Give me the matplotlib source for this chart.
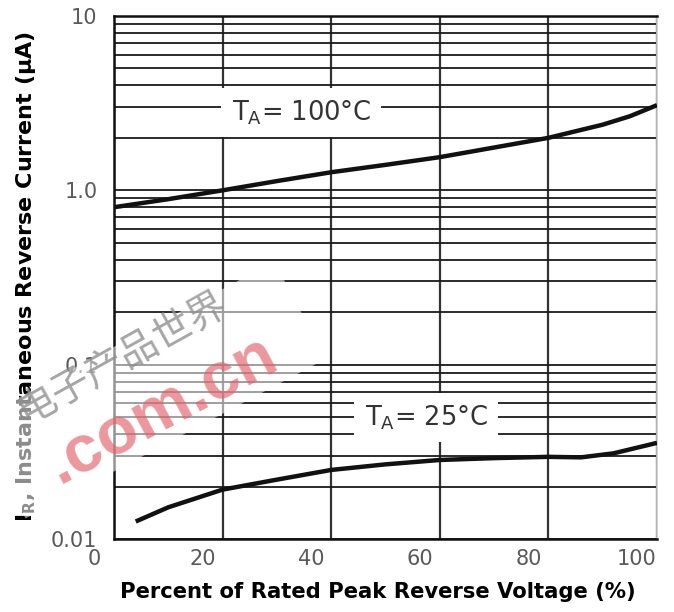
import numpy as np
import matplotlib
matplotlib.use("Agg")
import matplotlib.pyplot as plt
import matplotlib.transforms as mtransforms
from matplotlib.ticker import LogLocator, NullFormatter, FixedLocator
from matplotlib.patches import Rectangle

# percent of rated peak reverse voltage
pct_100 = [0, 10, 20, 30, 40, 50, 60, 70, 80, 90, 95, 100]
ir_100 = [0.80, 0.89, 1.0, 1.13, 1.27, 1.40, 1.55, 1.76, 2.0, 2.38, 2.66, 3.08]

pct_25 = [4, 10, 20, 30, 40, 50, 60, 70, 80, 86, 92, 100]
ir_25 = [0.0126, 0.0152, 0.0192, 0.0219, 0.0249, 0.0268, 0.0284, 0.0291, 0.0296, 0.0294, 0.0310, 0.0356]

x_ticks = [0, 20, 40, 60, 80, 100]
y_ticks = [0.01, 0.1, 1.0, 10]
y_ticklabels = ["0.01", "0.1", "1.0", "10"]

fig = plt.figure(figsize=(6.74, 6.12), dpi=100)
ax = fig.add_axes([114/674, 73/612, 543/674, 523/612])

ax.set_yscale("log")
ax.set_xlim(0, 100)
ax.set_ylim(0.01, 10)

ax.xaxis.set_major_locator(FixedLocator(x_ticks))
ax.set_xticklabels([str(v) for v in x_ticks])
ax.yaxis.set_major_locator(FixedLocator(y_ticks))
ax.set_yticklabels(y_ticklabels)
ax.yaxis.set_minor_locator(LogLocator(base=10, subs=np.arange(2, 10)))
ax.yaxis.set_minor_formatter(NullFormatter())

ax.set_axisbelow(True)
ax.grid(True, which="major", axis="x", color="#333333", lw=1.6)
ax.grid(True, which="both", axis="y", color="#1a1a1a", lw=1.3)

ax.tick_params(axis="both", which="both", length=0)
ax.tick_params(axis="x", labelsize=15, labelcolor="#5a5a5a", pad=7)
ax.tick_params(axis="y", labelsize=15, labelcolor="#5a5a5a", pad=12)
for lbl in ax.get_xticklabels() + ax.get_yticklabels():
    lbl.set_family("DejaVu Sans")
for lbl in ax.get_xticklabels():
    lbl.set_transform(lbl.get_transform() + mtransforms.ScaledTranslation(-0.2, 0, fig.dpi_scale_trans))

for s in ["left", "bottom", "top"]:
    ax.spines[s].set_color("#111111")
    ax.spines[s].set_linewidth(1.8)
ax.spines["right"].set_color("#cccccc")
ax.spines["right"].set_linewidth(1.2)

# curves
ax.plot(pct_100, ir_100, color="#111111", lw=3.2, solid_capstyle="butt", zorder=5)
ax.plot(pct_25, ir_25, color="#111111", lw=3.2, solid_capstyle="butt", zorder=5)

box = dict(boxstyle="square,pad=0.4", facecolor="white", edgecolor="none")
ax.text(34.5, 2.8, r"T$_{\mathregular{A}}$= 100°C", fontsize=18.5, color="#333333",
        family="DejaVu Sans", ha="center", va="center", bbox=box, zorder=4)
ax.text(57.5, 0.0495, r"T$_{\mathregular{A}}$= 25°C", fontsize=18.5, color="#333333",
        family="DejaVu Sans", ha="center", va="center", bbox=box, zorder=4)

# axis titles
fig.text(378/674, 1 - 592/612, "Percent of Rated Peak Reverse Voltage (%)",
         fontsize=15.2, fontweight="bold", family="DejaVu Sans", ha="center", va="center")
fig.text(26/674, 1 - 276/612, r"I$_{\mathregular{R}}$, Instantaneous Reverse Current (μA)",
         fontsize=16, fontweight="bold", family="DejaVu Sans", rotation=90,
         ha="center", va="center")

# watermark
cx, cy = 150, 612 - 390
wm = Rectangle((cx - 170, cy - 55), 340, 110, facecolor="white", alpha=0.55,
               edgecolor="none", zorder=6)
wm.set_transform(mtransforms.Affine2D().rotate_deg_around(cx, cy, 28) + mtransforms.IdentityTransform())
fig.patches.append(wm)
fig.text(122/674, 1 - 358/612, "电子产品世界", fontsize=28, color="#8f8f8f", alpha=0.8,
         family=["Noto Sans CJK SC", "DejaVu Sans"], rotation=29, ha="center", va="center", zorder=7)
fig.text(162/674, 1 - 410/612, ".com.cn", fontsize=48, fontweight="bold", color="#e0606a",
         alpha=0.65, family="Liberation Sans", rotation=28, ha="center", va="center", zorder=7)

fig.savefig("out.png", dpi=100)
